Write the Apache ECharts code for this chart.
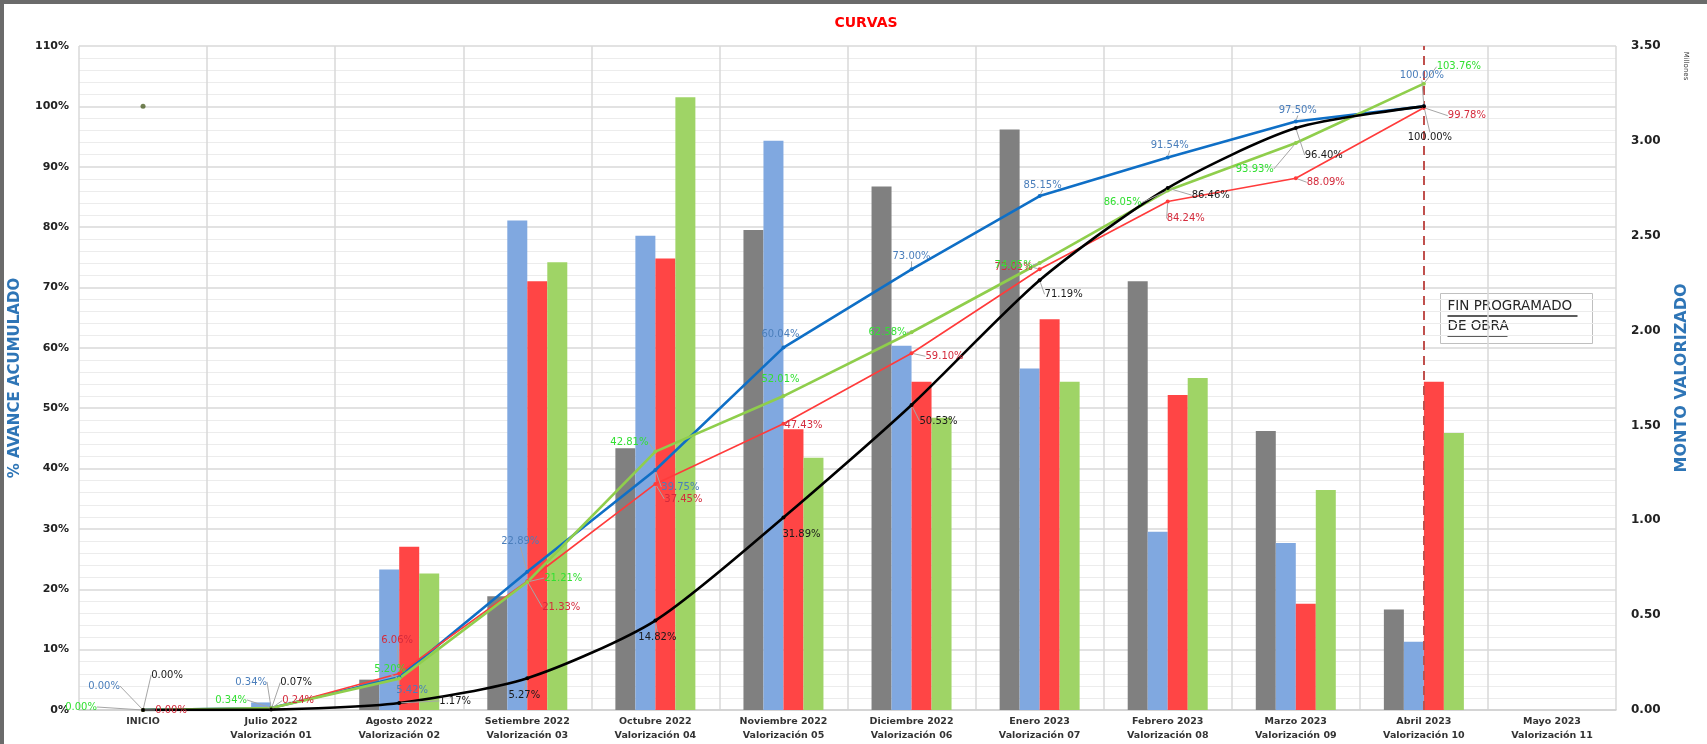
<!DOCTYPE html>
<html>
<head>
<meta charset="utf-8">
<title>CURVAS</title>
<script src="https://cdn.jsdelivr.net/npm/echarts@6/dist/echarts.min.js"></script>
<style>
  html, body { margin: 0; padding: 0; background: #fff; }
  #chart { width: 1707px; height: 744px; }
</style>
</head>
<body>
<div id="chart"></div>
<script>
// categorías (mes + valorización)
const categories = [
  'INICIO',
  'Julio 2022\nValorización 01',
  'Agosto 2022\nValorización 02',
  'Setiembre 2022\nValorización 03',
  'Octubre 2022\nValorización 04',
  'Noviembre 2022\nValorización 05',
  'Diciembre 2022\nValorización 06',
  'Enero 2023\nValorización 07',
  'Febrero 2023\nValorización 08',
  'Marzo 2023\nValorización 09',
  'Abril 2023\nValorización 10',
  'Mayo 2023\nValorización 11'
];

// montos mensuales (millones) - eje derecho
const montoGris  = [0, 0,    0.16, 0.60, 1.38, 2.53, 2.76, 3.06, 2.26, 1.47, 0.53, 0];
const montoAzul  = [0, 0.04, 0.74, 2.58, 2.50, 3.00, 1.92, 1.80, 0.94, 0.88, 0.36, 0];
const montoRojo  = [0, 0,    0.86, 2.26, 2.38, 1.48, 1.73, 2.06, 1.66, 0.56, 1.73, 0];
const montoVerde = [0, 0,    0.72, 2.36, 3.23, 1.33, 1.54, 1.73, 1.75, 1.16, 1.46, 0];

// avance acumulado (%) - eje izquierdo
const avanceAzul  = [0, 0.34, 5.42, 22.89, 39.75, 60.04, 73.00, 85.15, 91.54, 97.50, 100.00, null];
const avanceRojo  = [0, 0.24, 6.06, 21.33, 37.45, 47.43, 59.10, 73.01, 84.24, 88.09, 99.78, null];
const avanceVerde = [0, 0.34, 5.20, 21.21, 42.81, 52.01, 62.58, 74.05, 86.05, 93.93, 103.76, null];
const avanceNegro = [0, 0.07, 1.17, 5.27, 14.82, 31.89, 50.53, 71.19, 86.46, 96.40, 100.00, null];
const puntoMeta   = [100, null, null, null, null, null, null, null, null, null, null, null];

// ejes
const ticksAvance = { min: 0, max: 110, step: 10 };
const ticksMonto  = { min: 0, max: 3.5, step: 0.5 };
const indiceFinProgramado = 10;

// desplazamiento de etiquetas [dx, dy] (solo estilo)
const offAzul  = [[-39,-24],[-20,-26],[13,13],[-7,-30],[25,17],[-3,-13],[0,-13],[3,-11],[2,-12],[2,-11],[-2,-31]];
const offRojo  = [[28,0],[27,-8],[-2,-33],[34,26],[28,15],[20,2],[33,3],[-26,-2],[18,17],[30,4],[43,8]];
const offVerde = [[-62,-3],[-40,-8],[-9,-9],[36,-4],[-26,-9],[-3,-17],[-24,0],[-26,2],[-45,12],[-41,26],[35,-17]];
const offNegro = [[24,-35],[25,-27],[56,-2],[-3,17],[2,17],[18,17],[27,16],[24,14],[43,7],[28,27],[6,31]];

const FONT = 'DejaVu Sans';

function barSeries(name, data, color) {
  return {
    name, type: 'bar', yAxisIndex: 1, data,
    barWidth: 20, barGap: '0%',
    itemStyle: { color },
    emphasis: { disabled: true },
    z: 2
  };
}

function lineSeries(name, values, color, width, labelColor, offsets, smooth) {
  return {
    name, type: 'line', yAxisIndex: 0, z: 5,
    smooth: smooth || false,
    symbol: 'circle', symbolSize: 4,
    itemStyle: { color },
    lineStyle: { color, width },
    label: {
      show: true, position: 'inside', align: 'center', verticalAlign: 'middle',
      color: labelColor, fontSize: 10, fontFamily: FONT,
      formatter: p => p.value.toFixed(2) + '%'
    },
    labelLine: { show: true, lineStyle: { color: '#a6a6a6', width: 1 } },
    emphasis: { disabled: true },
    data: values.map((v, i) => v == null ? null : { value: v, label: { offset: offsets[i] } })
  };
}

const chart = echarts.init(document.getElementById('chart'));

const rojoSeries = lineSeries('Avance real', avanceRojo, '#ff3b3b', 1.6, '#d42b3c', offRojo);
rojoSeries.markLine = {
  symbol: 'none', silent: true, label: { show: false },
  lineStyle: { color: '#c0504d', type: [9, 6], width: 2 },
  data: [{ xAxis: categories[indiceFinProgramado] }]
};

const option = {
  animation: false,
  backgroundColor: '#fff',
  title: {
    text: 'CURVAS', left: 861, top: 11, textAlign: 'center',
    textStyle: { color: '#ff0000', fontSize: 14, fontWeight: 'bold', fontFamily: FONT }
  },
  grid: { left: 78, right: 91, top: 46, bottom: 34 },
  xAxis: {
    type: 'category', data: categories,
    axisTick: { show: false },
    axisLine: { lineStyle: { color: '#d0d0d0', width: 1.5 } },
    splitLine: { show: true, interval: 0, lineStyle: { color: '#d9d9d9', width: 1.5 } },
    axisLabel: {
      interval: 0, color: '#333', fontSize: 9.5, fontWeight: 'bold',
      lineHeight: 14, margin: 5, fontFamily: FONT
    }
  },
  yAxis: [
    {
      type: 'value', min: ticksAvance.min, max: ticksAvance.max, interval: ticksAvance.step,
      name: '% AVANCE ACUMULADO', nameLocation: 'middle', nameGap: 56, nameRotate: 90,
      nameTextStyle: { color: '#2e75b6', fontWeight: 'bold', fontSize: 15, fontFamily: FONT },
      axisLine: { show: false },
      axisLabel: { formatter: '{value}%', color: '#222', fontWeight: 'bold', fontSize: 11, margin: 10, fontFamily: FONT },
      splitLine: { lineStyle: { color: '#d9d9d9', width: 1.5 } },
      minorTick: { show: false, splitNumber: 5 },
      minorSplitLine: { show: true, lineStyle: { color: '#ececec' } }
    },
    {
      type: 'value', position: 'right',
      min: ticksMonto.min, max: ticksMonto.max, interval: ticksMonto.step,
      name: 'MONTO VALORIZADO', nameLocation: 'middle', nameGap: 58, nameRotate: 90,
      nameTextStyle: { color: '#2e75b6', fontWeight: 'bold', fontSize: 16, fontFamily: FONT },
      axisLine: { show: false },
      axisLabel: { formatter: v => v.toFixed(2), color: '#222', fontWeight: 'bold', fontSize: 12, margin: 15, fontFamily: FONT },
      splitLine: { show: false }
    }
  ],
  series: [
    barSeries('Programado mensual', montoGris, '#808080'),
    barSeries('Programado actualizado mensual', montoAzul, '#80a8e0'),
    barSeries('Ejecutado mensual', montoRojo, '#ff4545'),
    barSeries('Valorizado mensual', montoVerde, '#9fd466'),
    lineSeries('Avance programado', avanceAzul, '#0f6fc6', 2.6, '#4a7ebb', offAzul),
    rojoSeries,
    lineSeries('Avance valorizado', avanceVerde, '#8fce4c', 2.6, '#33e033', offVerde),
    lineSeries('Avance programado original', avanceNegro, '#000000', 2.6, '#1a1a1a', offNegro, 0.25),
    {
      name: 'Meta', type: 'scatter', yAxisIndex: 0, data: puntoMeta,
      symbolSize: 5, itemStyle: { color: '#4f6228' }, z: 6
    }
  ],
  graphic: [
    { type: 'line', shape: { x1: 0, y1: 2, x2: 1707, y2: 2 }, style: { stroke: '#6b6b6b', lineWidth: 4 } },
    { type: 'line', shape: { x1: 2, y1: 0, x2: 2, y2: 744 }, style: { stroke: '#6b6b6b', lineWidth: 4 } },
    {
      type: 'text', x: 1686, y: 66, rotation: -Math.PI / 2,
      style: { text: 'Millones', fontSize: 7, fill: '#333', fontFamily: FONT, align: 'center', verticalAlign: 'middle' }
    },
    {
      type: 'group', left: 1440, top: 293, z: 10,
      children: [
        { type: 'rect', shape: { x: 0, y: 0, width: 152, height: 50 }, style: { fill: '#fff', stroke: '#bfbfbf', lineWidth: 1 } },
        { type: 'text', x: 7, y: 6, style: { text: 'FIN PROGRAMADO', fontSize: 13.5, fill: '#262626', fontFamily: FONT, verticalAlign: 'top' } },
        { type: 'line', shape: { x1: 7, y1: 22.5, x2: 137, y2: 22.5 }, style: { stroke: '#262626', lineWidth: 1.3 } },
        { type: 'text', x: 7, y: 26, style: { text: 'DE OBRA', fontSize: 13.5, fill: '#262626', fontFamily: FONT, verticalAlign: 'top' } },
        { type: 'line', shape: { x1: 7, y1: 42.5, x2: 67, y2: 42.5 }, style: { stroke: '#262626', lineWidth: 1.3 } }
      ]
    }
  ]
};

chart.setOption(option);
</script>
</body>
</html>
